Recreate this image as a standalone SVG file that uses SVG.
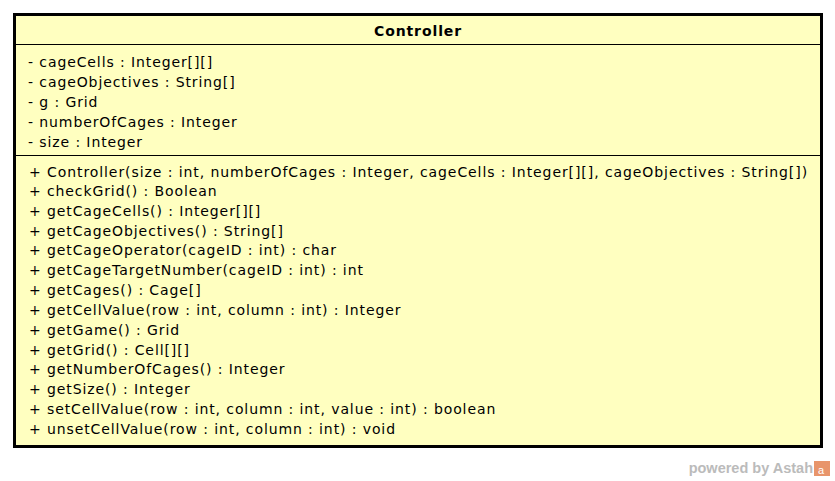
<svg xmlns="http://www.w3.org/2000/svg" width="835" height="481" viewBox="0 0 835 481">
<style>
.t{font-family:"DejaVu Sans","Liberation Sans",sans-serif;font-size:14px;letter-spacing:0.9px;fill:#000}
.b{font-weight:bold;text-anchor:middle}
.sep{stroke:#000;stroke-width:1.2}
</style>
<rect width="835" height="481" fill="#fff"/>
<g id="Controller">
<rect x="14.5" y="14.5" width="807" height="432" fill="#FFFFC0" stroke="#000" stroke-width="3"/>
<line class="sep" x1="14" y1="44.5" x2="822" y2="44.5"/>
<line class="sep" x1="14" y1="155.5" x2="822" y2="155.5"/>
<text class="t b" x="418" y="36">Controller</text>
<text class="t" x="28" y="67">- cageCells : Integer[][]</text>
<text class="t" x="28" y="87">- cageObjectives : String[]</text>
<text class="t" x="28" y="107">- g : Grid</text>
<text class="t" x="28" y="127">- numberOfCages : Integer</text>
<text class="t" x="28" y="147">- size : Integer</text>
<text class="t" x="29" y="177" textLength="779" lengthAdjust="spacing">+ Controller(size : int, numberOfCages : Integer, cageCells : Integer[][], cageObjectives : String[])</text>
<text class="t" x="29" y="196">+ checkGrid() : Boolean</text>
<text class="t" x="29" y="216">+ getCageCells() : Integer[][]</text>
<text class="t" x="29" y="236">+ getCageObjectives() : String[]</text>
<text class="t" x="29" y="255">+ getCageOperator(cageID : int) : char</text>
<text class="t" x="29" y="275">+ getCageTargetNumber(cageID : int) : int</text>
<text class="t" x="29" y="295">+ getCages() : Cage[]</text>
<text class="t" x="29" y="315">+ getCellValue(row : int, column : int) : Integer</text>
<text class="t" x="29" y="335">+ getGame() : Grid</text>
<text class="t" x="29" y="355">+ getGrid() : Cell[][]</text>
<text class="t" x="29" y="374">+ getNumberOfCages() : Integer</text>
<text class="t" x="29" y="394">+ getSize() : Integer</text>
<text class="t" x="29" y="414">+ setCellValue(row : int, column : int, value : int) : boolean</text>
<text class="t" x="29" y="434">+ unsetCellValue(row : int, column : int) : void</text>
</g>
<g id="footer">
<text x="813" y="473" text-anchor="end" style="font-family:'Liberation Sans',Arial,sans-serif;font-size:14.5px;font-weight:bold;fill:#bbb">powered by Astah</text>
<rect x="814" y="461" width="16" height="15" fill="#E8956B"/>
<text x="821" y="474" text-anchor="middle" style="font-family:'Liberation Sans',sans-serif;font-size:11px;fill:#fff">a</text>
</g>
</svg>
